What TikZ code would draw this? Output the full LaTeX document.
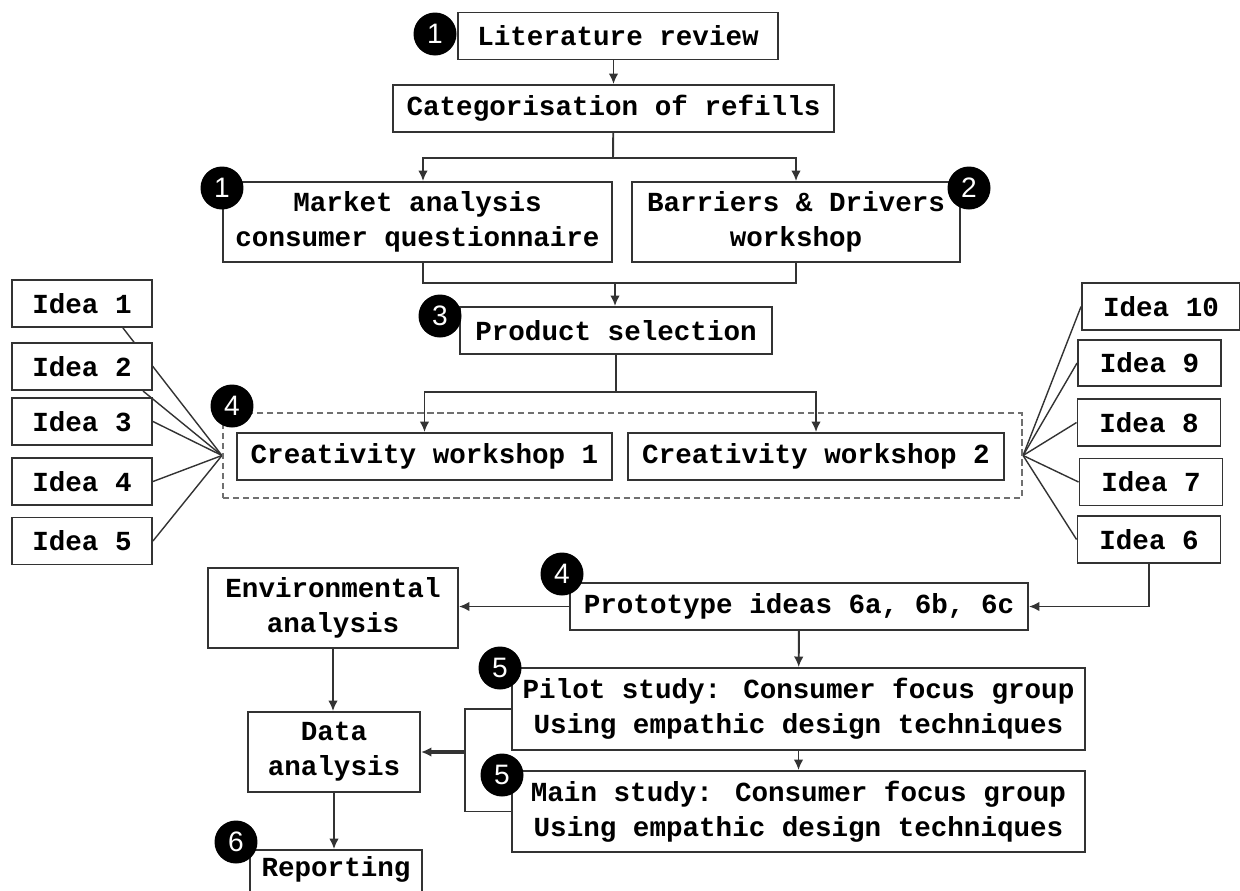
\documentclass[tikz,border=0pt]{standalone}
\usepackage{fontspec}
\setmainfont{Liberation Mono}
\newfontfamily\badgefont{Liberation Sans}
\usetikzlibrary{arrows.meta,backgrounds}
\definecolor{linec}{HTML}{333333}
\definecolor{dashc}{HTML}{707070}

\begin{document}
\begin{tikzpicture}[x=0.02cm, y=-0.02cm,
  box/.style={draw=linec, line width=1.1pt, fill=white, inner sep=0pt, align=center,
    font=\bfseries\fontsize{15.7}{20}\selectfont},
  badge/.style={circle, fill=black, text=white, inner sep=0pt, minimum size=0.86cm,
    font=\badgefont\fontsize{16}{16}\selectfont},
  link/.style={draw=linec, line width=1.1pt},
  arr/.style={link, -{Latex[length=6pt, width=5.5pt]}},
  frame/.style={draw=dashc, line width=1.3pt, dash pattern=on 3.5pt off 2.2pt, inner sep=0pt}]
\useasboundingbox (0,0) rectangle (1240,890);

\node[box, minimum width=6.4cm, minimum height=0.94cm] (lit) at (618,36) {Literature review};
\node[box, minimum width=8.82cm, minimum height=0.94cm] (cat) at (613.5,108.5) {Categorisation of refills};
\node[box, minimum width=7.78cm, minimum height=1.6cm] (market) at (417.5,222) {Market analysis\\consumer questionnaire};
\node[box, minimum width=6.56cm, minimum height=1.6cm] (barr) at (796,222) {Barriers \& Drivers\\workshop};
\node[box, minimum width=6.24cm, minimum height=0.94cm] (prod) at (616,330.5) {Product selection};

\node[frame, minimum width=15.98cm, minimum height=1.7cm] (group) at (622.5,455.5) {};
\node[box, minimum width=7.5cm, minimum height=0.94cm] (cw1) at (424.5,456.5) {Creativity workshop 1};
\node[box, minimum width=7.52cm, minimum height=0.94cm] (cw2) at (816,456.5) {Creativity workshop 2};

\node[box, minimum width=2.8cm, minimum height=0.94cm] (i1) at (82,303.5) {Idea 1};
\node[box, minimum width=2.8cm, minimum height=0.94cm] (i2) at (82,366.5) {Idea 2};
\node[box, minimum width=2.8cm, minimum height=0.94cm] (i3) at (82,421.5) {Idea 3};
\node[box, minimum width=2.8cm, minimum height=0.94cm] (i4) at (82,481.5) {Idea 4};
\node[box, minimum width=2.8cm, minimum height=0.94cm] (i5) at (82,541) {Idea 5};

\node[box, minimum width=3.16cm, minimum height=0.94cm] (i10) at (1161,306.5) {Idea 10};
\node[box, minimum width=2.86cm, minimum height=0.92cm] (i9) at (1149.5,363) {Idea 9};
\node[box, minimum width=2.86cm, minimum height=0.94cm] (i8) at (1149,422.5) {Idea 8};
\node[box, minimum width=2.86cm, minimum height=0.94cm] (i7) at (1151,482) {Idea 7};
\node[box, minimum width=2.86cm, minimum height=0.94cm] (i6) at (1149,539.5) {Idea 6};

\node[box, minimum width=9.16cm, minimum height=0.94cm] (proto) at (799,606.5) {Prototype ideas 6a, 6b, 6c};
\node[box, minimum width=5cm, minimum height=1.6cm] (env) at (333,608) {Environmental\\analysis};
\node[box, minimum width=3.44cm, minimum height=1.6cm] (data) at (334,752) {Data\\analysis};
\node[box, minimum width=3.44cm, minimum height=1.6cm, text depth=0.95cm] (report) at (336,890) {Reporting};
\node[box, minimum width=11.46cm, minimum height=1.64cm] (pilot) at (798.5,709) {Pilot study: Consumer focus group\\Using empathic design techniques};
\node[box, minimum width=11.46cm, minimum height=1.62cm] (main) at (798.5,811.5) {Main study: Consumer focus group\\Using empathic design techniques};

\coordinate (split1) at (613,158);
\coordinate (join1) at (615,283);
\coordinate (split2) at (616,392);
\coordinate (brk) at (465,752);

\draw[arr] (cat.north|-lit.south) -- (cat.north);
\draw[link] (cat) -- (split1);
\draw[arr] (split1) -| ([xshift=0.11cm]market.north);
\draw[arr] (split1) -| (barr.north);
\draw[link] ([xshift=0.11cm]market.south) |- (join1) -| (barr.south);
\draw[arr] (join1) -- (join1|-prod.north);
\draw[link] (prod) -- (split2);
\draw[arr] (split2) -| (cw1.north);
\draw[arr] (split2) -| (cw2.north);

\begin{scope}[on background layer]
\draw[link, line width=0.8pt] ([xshift=-0.6cm]i1.south east) -- (group.west);
\draw[link, line width=0.8pt] ([xshift=1.22cm]i2.south) -- (group.west);
\draw[link, line width=0.8pt] (i3.east) -- (group.west);
\draw[link, line width=0.8pt] (i4.east) -- (group.west);
\draw[link, line width=0.8pt] (i5.east) -- (group.west);
\draw[link, line width=0.8pt] (i10.west) -- (group.east);
\draw[link, line width=0.8pt] (i9.west) -- (group.east);
\draw[link, line width=0.8pt] (i8.west) -- (group.east);
\draw[link, line width=0.8pt] (i7.west) -- (group.east);
\draw[link, line width=0.8pt] (i6.west) -- (group.east);
\end{scope}

\draw[arr] (i6.south) |- (proto.east);
\draw[arr] (proto.west) -- (env.east|-proto.west);
\draw[arr] (env.south) -- (env.south|-data.north);
\draw[arr] (data.south) -- (data.south|-report.north);
\draw[arr] (proto) -- (pilot);
\draw[arr] (pilot) -- (main);
\draw[link] (pilot.west) -| (brk) |- (main.west);
\draw[arr, line width=2pt] (brk) -- (data.east);

\node[badge] (n1) at (435,34) {1};
\node[badge] (n1b) at (222,188) {1};
\node[badge] (n2) at (969,188) {2};
\node[badge] (n3) at (440,316) {3};
\node[badge] (n4) at (232,406) {4};
\node[badge] (n4b) at (562,574) {4};
\node[badge] (n5) at (500,668) {5};
\node[badge] (n5b) at (502,775) {5};
\node[badge] (n6) at (236,842) {6};
\end{tikzpicture}
\end{document}
